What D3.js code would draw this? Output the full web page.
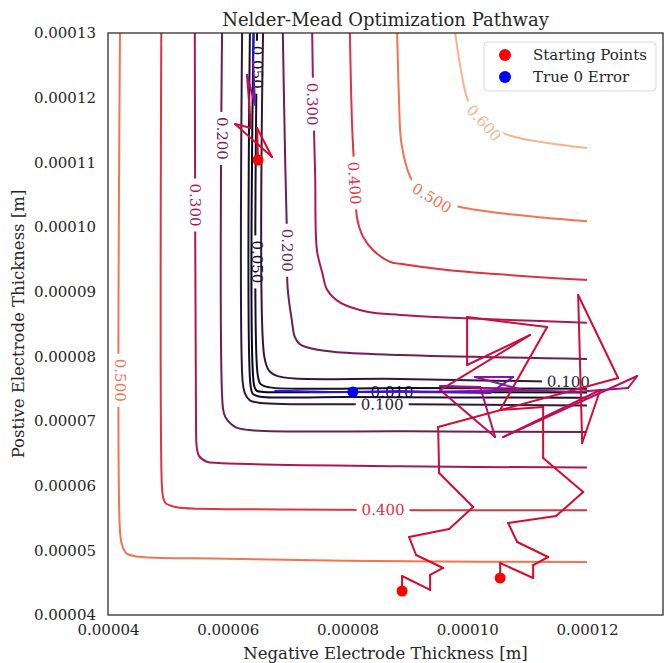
<!DOCTYPE html>
<html>
<head>
<meta charset="utf-8">
<script src="https://cdn.jsdelivr.net/npm/d3@7"></script>
<style>
  body { margin: 0; background: #fff; }
  svg { display: block; }
  text { font-family: "DejaVu Serif", serif; }
</style>
</head>
<body>
<svg id="chart" width="666" height="663"></svg>
<script>
// ---- axis ticks ----
const xTicks = [4e-5, 6e-5, 8e-5, 10e-5, 12e-5];
const yTicks = [4e-5, 5e-5, 6e-5, 7e-5, 8e-5, 9e-5, 10e-5, 11e-5, 12e-5, 13e-5];

// ---- contour levels (relative error) ----
const levels = [0.01, 0.05, 0.1, 0.2, 0.3, 0.4, 0.5, 0.6, 0.7];

// ---- contour branches: [negative thickness, positive thickness] in m ----
// "lo" = branch on the thin side of the valley, "hi" = thick side
const c010 = [[6.43e-5,13.0e-5],[6.44e-5,7.55e-5],[6.48e-5,7.47e-5],[6.60e-5,7.45e-5],[8.0e-5,7.45e-5],[12.0e-5,7.44e-5]];
const c050lo = [[6.37e-5,13.0e-5],[6.38e-5,7.56e-5],[6.42e-5,7.42e-5],[6.52e-5,7.38e-5],[8.0e-5,7.37e-5],[12.0e-5,7.36e-5]];
const c050hi = [[6.49e-5,13.0e-5],[6.50e-5,7.72e-5],[6.55e-5,7.57e-5],[6.70e-5,7.52e-5],[9.0e-5,7.51e-5],[12.0e-5,7.50e-5]];
const c100lo = [[6.24e-5,13.0e-5],[6.25e-5,7.60e-5],[6.29e-5,7.42e-5],[6.37e-5,7.32e-5],[6.55e-5,7.28e-5],[9.0e-5,7.26e-5],[12.0e-5,7.24e-5]];
const c100hi = [[6.59e-5,13.0e-5],[6.61e-5,8.0e-5],[6.69e-5,7.78e-5],[6.85e-5,7.69e-5],[8.88e-5,7.65e-5],[12.0e-5,7.60e-5]];
const c200lo = [[5.905e-5,13.0e-5],[5.92e-5,7.2e-5],[5.96e-5,7.06e-5],[6.12e-5,6.91e-5],[6.35e-5,6.86e-5],[9.0e-5,6.84e-5],[12.0e-5,6.83e-5]];
const c200hi = [[6.92e-5,13.0e-5],[6.96e-5,11.0e-5],[6.99e-5,9.85e-5],[7.00e-5,9.06e-5],[7.07e-5,8.56e-5],[7.12e-5,8.30e-5],[7.20e-5,8.19e-5],[7.32e-5,8.14e-5],[7.76e-5,8.07e-5],[8.88e-5,8.02e-5],[12.0e-5,7.96e-5]];
const c300lo = [[5.45e-5,13.0e-5],[5.47e-5,7.0e-5],[5.48e-5,6.62e-5],[5.52e-5,6.46e-5],[5.65e-5,6.37e-5],[5.85e-5,6.35e-5],[8.88e-5,6.30e-5],[12.0e-5,6.28e-5]];
const c300hi = [[7.41e-5,13.0e-5],[7.43e-5,11.9e-5],[7.46e-5,10.8e-5],[7.49e-5,9.64e-5],[7.58e-5,9.29e-5],[7.66e-5,9.03e-5],[7.88e-5,8.83e-5],[8.33e-5,8.69e-5],[8.88e-5,8.64e-5],[10.5e-5,8.57e-5],[12.0e-5,8.52e-5]];
const c400lo = [[4.89e-5,13.0e-5],[4.90e-5,6.0e-5],[4.92e-5,5.82e-5],[4.96e-5,5.73e-5],[5.05e-5,5.69e-5],[5.2e-5,5.66e-5],[7.0e-5,5.63e-5],[12.0e-5,5.62e-5]];
const c400hi = [[8.04e-5,13.0e-5],[8.08e-5,11.5e-5],[8.13e-5,10.66e-5],[8.16e-5,10.14e-5],[8.26e-5,9.85e-5],[8.43e-5,9.64e-5],[8.71e-5,9.46e-5],[8.88e-5,9.43e-5],[9.7e-5,9.33e-5],[12.0e-5,9.18e-5]];
const c500lo = [[4.20e-5,13.0e-5],[4.20e-5,5.30e-5],[4.23e-5,5.10e-5],[4.30e-5,4.96e-5],[4.45e-5,4.91e-5],[6.0e-5,4.87e-5],[9.0e-5,4.83e-5],[12.0e-5,4.82e-5]];
const c500hi = [[8.83e-5,13.0e-5],[8.86e-5,12.0e-5],[8.90e-5,11.3e-5],[9.05e-5,10.77e-5],[9.2e-5,10.57e-5],[9.41e-5,10.45e-5],[9.88e-5,10.31e-5],[11.0e-5,10.17e-5],[12.0e-5,10.09e-5]];
const c600hi = [[9.80e-5,13.0e-5],[9.90e-5,12.4e-5],[10.0e-5,11.99e-5],[10.15e-5,11.75e-5],[10.3e-5,11.60e-5],[10.72e-5,11.41e-5],[11.4e-5,11.29e-5],[12.0e-5,11.22e-5]];

const branches = [
  { level: 0.5,  pts: c500lo }, { level: 0.5,  pts: c500hi },
  { level: 0.6,  pts: c600hi },
  { level: 0.4,  pts: c400lo }, { level: 0.4,  pts: c400hi },
  { level: 0.3,  pts: c300lo }, { level: 0.3,  pts: c300hi },
  { level: 0.2,  pts: c200lo }, { level: 0.2,  pts: c200hi },
  { level: 0.1,  pts: c100lo }, { level: 0.1,  pts: c100hi },
  { level: 0.05, pts: c050lo }, { level: 0.05, pts: c050hi },
  { level: 0.01, pts: c010 }
];

// inline contour labels: [branch index, x, y]
const contourLabels = [
  [0, 4.20e-5, 7.63e-5], [1, 9.41e-5, 10.45e-5], [2, 10.28e-5, 11.61e-5],
  [3, 8.595e-5, 5.63e-5], [4, 8.12e-5, 10.68e-5],
  [5, 5.46e-5, 10.34e-5], [6, 7.42e-5, 11.90e-5],
  [7, 5.905e-5, 11.37e-5], [8, 7.00e-5, 9.64e-5],
  [9, 8.58e-5, 7.26e-5], [10, 11.69e-5, 7.61e-5],
  [12, 6.49e-5, 12.47e-5], [12, 6.50e-5, 9.46e-5],
  [13, 8.745e-5, 7.45e-5]
];

// ---- optimizer pathways (simplex best point per iteration) ----
const pathA = [[6.506e-5,11.036e-5],[6.490e-5,11.531e-5],[6.740e-5,11.082e-5],[6.122e-5,11.592e-5],[6.389e-5,11.531e-5],[6.322e-5,12.350e-5],[6.456e-5,11.886e-5],[6.423e-5,12.582e-5],[6.44e-5,13.3e-5]];
const pathB = [[8.912e-5,4.371e-5],[8.912e-5,4.603e-5],[9.380e-5,4.387e-5],[9.380e-5,4.619e-5],[9.597e-5,4.727e-5],[9.146e-5,4.928e-5],[9.029e-5,5.206e-5],[9.698e-5,5.330e-5],[10.099e-5,5.670e-5],[9.531e-5,6.196e-5],[9.514e-5,6.907e-5],[12.521e-5,7.665e-5],[11.853e-5,8.948e-5],[11.920e-5,6.660e-5],[12.221e-5,7.479e-5],[10.600e-5,6.752e-5],[12.839e-5,7.696e-5],[12.688e-5,7.510e-5],[11.803e-5,7.448e-5],[10.884e-5,7.479e-5],[10.048e-5,7.464e-5],[9.213e-5,7.448e-5],[8.545e-5,7.448e-5],[7.709e-5,7.448e-5],[7.041e-5,7.464e-5],[6.790e-5,7.464e-5]];
const pathC = [[10.550e-5,4.572e-5],[10.550e-5,4.804e-5],[11.101e-5,4.572e-5],[11.101e-5,4.773e-5],[11.352e-5,4.897e-5],[10.834e-5,5.129e-5],[10.683e-5,5.423e-5],[11.485e-5,5.531e-5],[11.937e-5,5.902e-5],[11.268e-5,6.428e-5],[11.268e-5,7.216e-5],[10.550e-5,7.170e-5],[11.335e-5,8.453e-5],[9.998e-5,8.608e-5],[9.998e-5,7.866e-5],[11.051e-5,8.330e-5],[9.547e-5,7.479e-5],[10.466e-5,6.752e-5],[10.216e-5,7.526e-5],[9.547e-5,7.541e-5],[10.934e-5,7.479e-5],[10.132e-5,7.680e-5],[10.767e-5,7.680e-5],[10.383e-5,7.433e-5],[9.547e-5,7.448e-5],[8.879e-5,7.464e-5],[8.043e-5,7.448e-5],[7.375e-5,7.448e-5]];
const startPoints = [pathA[0], pathB[0], pathC[0]];
const trueZero = [8.09e-5, 7.45e-5];

// ---- layout ----
const W = 666, H = 663;
const M = { left: 108, right: 3, top: 33, bottom: 48 };
const FONT = "'DejaVu Serif', serif";
const INK = "#262626";

const svg = d3.select("#chart");
const x = d3.scaleLinear().domain([4e-5, 13.27e-5]).range([M.left, W - M.right]);
const y = d3.scaleLinear().domain([4e-5, 13e-5]).range([H - M.bottom, M.top]);

// rocket-like sequential colormap for contour levels
const rocketStops = ["#03051a", "#35193e", "#701f57", "#ad1759", "#e13342", "#f37651", "#f6b48f", "#faebdd"];
const rocket = d3.scaleLinear()
  .domain(rocketStops.map((_, i) => i / (rocketStops.length - 1)))
  .range(rocketStops)
  .interpolate(d3.interpolateRgb);
const levelNorm = d3.scaleLinear().domain(d3.extent(levels)).range([0, 1]);
const levelColor = lv => rocket(levelNorm(lv));

const defs = svg.append("defs");
defs.append("clipPath").attr("id", "plotClip")
  .append("rect")
  .attr("x", M.left).attr("y", M.top)
  .attr("width", W - M.left - M.right).attr("height", H - M.top - M.bottom);

const plot = svg.append("g").attr("clip-path", "url(#plotClip)");

const line = d3.line()
  .x(d => x(d[0])).y(d => y(d[1]))
  .curve(d3.curveCatmullRom.alpha(0.5));

// ---- contour labels first, so their widths can cut gaps in the lines ----
const fmt3 = d3.format(".3f");
const labelLayer = svg.append("g").attr("clip-path", "url(#plotClip)");
const labelGeom = contourLabels.map(([bi, lx, ly]) => {
  const pts = branches[bi].pts.map(p => [x(p[0]), y(p[1])]);
  const px = x(lx), py = y(ly);
  // local direction of the branch nearest to the label
  let best = 0, bestD = Infinity;
  for (let i = 0; i < pts.length - 1; i++) {
    const a = pts[i], b = pts[i + 1];
    const t = Math.max(0, Math.min(1, ((px - a[0]) * (b[0] - a[0]) + (py - a[1]) * (b[1] - a[1])) /
      ((b[0] - a[0]) ** 2 + (b[1] - a[1]) ** 2 || 1)));
    const d = Math.hypot(px - (a[0] + t * (b[0] - a[0])), py - (a[1] + t * (b[1] - a[1])));
    if (d < bestD) { bestD = d; best = i; }
  }
  const a = pts[best], b = pts[best + 1];
  let ang = Math.atan2(b[1] - a[1], b[0] - a[0]) * 180 / Math.PI;
  if (ang > 90) ang -= 180;
  if (ang <= -90) ang += 180;
  if (Math.abs(Math.abs(ang) - 90) < 1) ang = 90;
  const lv = branches[bi].level;
  const t = labelLayer.append("text")
    .attr("transform", `translate(${px},${py}) rotate(${ang})`)
    .attr("text-anchor", "middle")
    .attr("dy", "0.36em")
    .attr("font-family", FONT)
    .attr("font-size", 15)
    .attr("fill", levelColor(lv))
    .text(fmt3(lv));
  return { bi, px, py, ang, w: t.node().getComputedTextLength() };
});

// one mask per branch, with holes under its own labels
branches.forEach((br, i) => {
  const m = defs.append("mask").attr("id", "cmask" + i).attr("maskUnits", "userSpaceOnUse")
    .attr("x", 0).attr("y", 0).attr("width", W).attr("height", H);
  m.append("rect").attr("x", 0).attr("y", 0).attr("width", W).attr("height", H).attr("fill", "#fff");
  labelGeom.filter(g => g.bi === i).forEach(g => {
    m.append("rect")
      .attr("x", -g.w / 2 - 5).attr("y", -7).attr("width", g.w + 10).attr("height", 14)
      .attr("transform", `translate(${g.px},${g.py}) rotate(${g.ang})`)
      .attr("fill", "#000");
  });
});

plot.append("g").selectAll("path")
  .data(branches)
  .join("path")
  .attr("d", d => line(d.pts))
  .attr("mask", (d, i) => `url(#cmask${i})`)
  .attr("fill", "none")
  .attr("stroke", d => levelColor(d.level))
  .attr("stroke-width", 2);

// bring labels above the contour lines
labelLayer.raise();

// ---- optimizer pathways, coloured from red (early) to blue (late) ----
const stepColor = d3.scaleLinear()
  .domain([0, 0.55, 0.8, 1])
  .range(["#dc0a26", "#d00c36", "#8c12a6", "#1a14f5"])
  .interpolate(d3.interpolateRgb);

const pathLayer = svg.append("g").attr("clip-path", "url(#plotClip)");
[pathA, pathB, pathC].forEach(p => {
  const segs = d3.pairs(p);
  pathLayer.append("g").selectAll("line")
    .data(segs)
    .join("line")
    .attr("x1", d => x(d[0][0])).attr("y1", d => y(d[0][1]))
    .attr("x2", d => x(d[1][0])).attr("y2", d => y(d[1][1]))
    .attr("stroke", (d, i) => stepColor(i / (segs.length - 1)))
    .attr("stroke-width", 2)
    .attr("stroke-linecap", "round");
});

pathLayer.selectAll("circle.start")
  .data(startPoints)
  .join("circle")
  .attr("class", "start")
  .attr("cx", d => x(d[0])).attr("cy", d => y(d[1]))
  .attr("r", 5.5).attr("fill", "#ff0000");

pathLayer.append("circle")
  .attr("cx", x(trueZero[0])).attr("cy", y(trueZero[1]))
  .attr("r", 5.5).attr("fill", "#0000ff");

// ---- axes ----
const fmt5 = d3.format(".5f");
const gx = svg.append("g")
  .attr("transform", `translate(0,${H - M.bottom})`)
  .call(d3.axisBottom(x).tickValues(xTicks).tickFormat(fmt5).tickSize(0).tickPadding(9));
const gy = svg.append("g")
  .attr("transform", `translate(${M.left},0)`)
  .call(d3.axisLeft(y).tickValues(yTicks).tickFormat(fmt5).tickSize(0).tickPadding(12));
[gx, gy].forEach(g => {
  g.select(".domain").remove();
  g.selectAll("text").attr("font-family", FONT).attr("font-size", 15).attr("fill", INK);
});

svg.append("rect")
  .attr("x", M.left).attr("y", M.top)
  .attr("width", W - M.left - M.right).attr("height", H - M.top - M.bottom)
  .attr("fill", "none").attr("stroke", INK).attr("stroke-width", 1.25);

svg.append("text")
  .attr("x", (M.left + W - M.right) / 2).attr("y", H - 4)
  .attr("text-anchor", "middle")
  .attr("font-family", FONT).attr("font-size", 16.5).attr("fill", INK)
  .text("Negative Electrode Thickness [m]");

svg.append("text")
  .attr("transform", `translate(24,${(M.top + H - M.bottom) / 2}) rotate(-90)`)
  .attr("text-anchor", "middle")
  .attr("font-family", FONT).attr("font-size", 16.5).attr("fill", INK)
  .text("Postive Electrode Thickness [m]");

svg.append("text")
  .attr("x", (M.left + W - M.right) / 2).attr("y", 26)
  .attr("text-anchor", "middle")
  .attr("font-family", FONT).attr("font-size", 18).attr("fill", INK)
  .text("Nelder-Mead Optimization Pathway");

// ---- legend ----
const legendItems = [
  { label: "Starting Points", color: "#ff0000" },
  { label: "True 0 Error", color: "#0000ff" }
];
const lg = svg.append("g").attr("transform", "translate(484,42)");
lg.append("rect")
  .attr("width", 172).attr("height", 49).attr("rx", 4)
  .attr("fill", "#fff").attr("fill-opacity", 0.85)
  .attr("stroke", "#d9d9d9").attr("stroke-width", 1);
legendItems.forEach((it, i) => {
  const row = lg.append("g").attr("transform", `translate(0,${13 + i * 22})`);
  row.append("circle").attr("cx", 21).attr("cy", 0).attr("r", 6).attr("fill", it.color);
  row.append("text").attr("x", 49).attr("y", 0).attr("dy", "0.35em")
    .attr("font-family", FONT).attr("font-size", 15).attr("fill", INK)
    .text(it.label);
});
</script>
</body>
</html>
